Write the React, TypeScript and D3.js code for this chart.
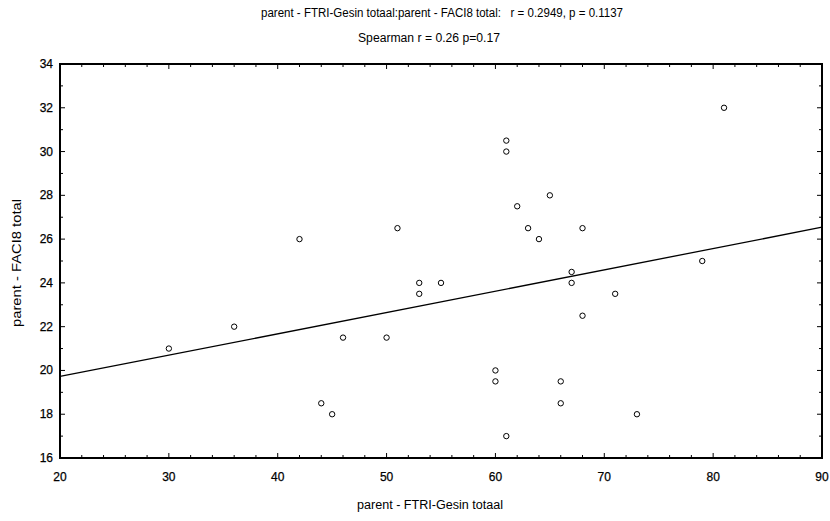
import React from 'react';
import * as d3 from 'd3';

const xValues = [30, 36, 42, 44, 45, 46, 50, 51, 53, 53, 55, 60, 60, 61, 61, 61, 62, 63, 64, 65, 66, 66, 67, 67, 68, 68, 71, 73, 79, 81];
const yValues = [21, 22, 26, 18.5, 18, 21.5, 21.5, 26.5, 24, 23.5, 24, 20, 19.5, 30.5, 30, 17, 27.5, 26.5, 26, 28, 19.5, 18.5, 24.5, 24, 26.5, 22.5, 23.5, 18, 25, 32];
const xTicks = [20, 30, 40, 50, 60, 70, 80, 90];
const yTicks = [16, 18, 20, 22, 24, 26, 28, 30, 32, 34];
const titleLine1 = 'parent - FTRI-Gesin totaal:parent - FACI8 total:   r = 0.2949, p = 0.1137';
const titleLine2 = 'Spearman r = 0.26 p=0.17';
const xLabel = 'parent - FTRI-Gesin totaal';
const yLabel = 'parent - FACI8 total';

const W = 830;
const H = 521;
const m = { left: 60, right: 822, top: 64, bottom: 458 };
const font = '"Liberation Sans", Arial, sans-serif';

export default function App() {
  const x = d3.scaleLinear().domain([20, 90]).range([m.left, m.right]);
  const y = d3.scaleLinear().domain([16, 34]).range([m.bottom, m.top]);

  const mx = d3.mean(xValues) as number;
  const my = d3.mean(yValues) as number;
  let sxy = 0, sxx = 0;
  xValues.forEach((v, i) => { sxy += (v - mx) * (yValues[i] - my); sxx += (v - mx) * (v - mx); });
  const slope = sxy / sxx;
  const icpt = my - slope * mx;
  const line = d3.line<number>().x(d => x(d)).y(d => y(icpt + slope * d));

  const xMinor = d3.range(20, 90.01, 2);
  const yMinor = d3.range(16, 34.01, 1);

  return (
    <svg width={W} height={H} style={{ position: 'absolute', left: 0, top: 0, background: '#fff' }} fontFamily={font}>
      <rect x={0} y={0} width={W} height={H} fill="#fff" />
      <text x={442} y={17} textAnchor="middle" fontSize={12} textLength={362} lengthAdjust="spacingAndGlyphs" style={{ whiteSpace: 'pre' }}>{titleLine1}</text>
      <text x={429} y={42} textAnchor="middle" fontSize={12} textLength={142} lengthAdjust="spacingAndGlyphs">{titleLine2}</text>

      {xMinor.map(v => {
        const major = v % 10 === 0;
        const len = major ? 5 : 3;
        return (
          <g key={'xt' + v}>
            <line x1={x(v)} x2={x(v)} y1={m.bottom} y2={m.bottom - len} stroke="#000" strokeWidth={1} />
            <line x1={x(v)} x2={x(v)} y1={m.top} y2={m.top + len} stroke="#000" strokeWidth={1} />
          </g>
        );
      })}
      {yMinor.map(v => {
        const major = v % 2 === 0;
        const len = major ? 5 : 3;
        return (
          <g key={'yt' + v}>
            <line x1={m.left} x2={m.left + len} y1={y(v)} y2={y(v)} stroke="#000" strokeWidth={1} />
            <line x1={m.right} x2={m.right - len} y1={y(v)} y2={y(v)} stroke="#000" strokeWidth={1} />
          </g>
        );
      })}

      <rect x={m.left} y={m.top} width={m.right - m.left} height={m.bottom - m.top} fill="none" stroke="#000" strokeWidth={2} />

      {xTicks.map(v => (
        <text key={'xl' + v} x={x(v)} y={481} textAnchor="middle" fontSize={12} stroke="#000" strokeWidth={0.25}>{v}</text>
      ))}
      {yTicks.map(v => (
        <text key={'yl' + v} x={53} y={y(v) + 4} textAnchor="end" fontSize={12} stroke="#000" strokeWidth={0.25}>{v}</text>
      ))}

      <path d={line([20, 90]) || ''} fill="none" stroke="#000" strokeWidth={1.3} />

      {xValues.map((v, i) => (
        <circle key={'p' + i} cx={x(v)} cy={y(yValues[i])} r={2.7} fill="none" stroke="#000" strokeWidth={1} />
      ))}

      <text x={430} y={509} textAnchor="middle" fontSize={12} textLength={146} lengthAdjust="spacingAndGlyphs">{xLabel}</text>
      <text transform={`translate(21,${(m.top + m.bottom) / 2 + 2}) rotate(-90)`} textAnchor="middle" fontSize={12} textLength={128} lengthAdjust="spacingAndGlyphs">{yLabel}</text>
    </svg>
  );
}
